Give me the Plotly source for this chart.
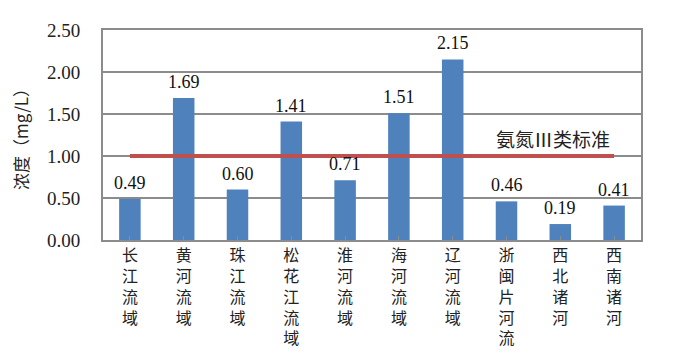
import plotly.graph_objects as go

categories = ["长江流域", "黄河流域", "珠江流域", "松花江流域", "淮河流域",
              "海河流域", "辽河流域", "浙闽片河流", "西北诸河", "西南诸河"]
values = [0.49, 1.69, 0.60, 1.41, 0.71, 1.51, 2.15, 0.46, 0.19, 0.41]
standard_value = 1.0
standard_label = "氨氮Ⅲ类标准"
y_title = "浓度（mg/L）"
y_ticks = [0.0, 0.5, 1.0, 1.5, 2.0, 2.5]

serif = "Liberation Serif, Times New Roman, serif"
cjk = "Noto Sans CJK SC"
grid = "#8c8c8c"

tick_text = ["<br>".join(list(c)) for c in categories]
xs = list(range(len(categories)))

fig = go.Figure()
fig.add_trace(go.Bar(
    x=xs, y=values, marker_color="#4F81BD", marker_line_width=0,
    cliponaxis=False, width=0.4,
))
for xi, v in zip(xs, values):
    fig.add_annotation(
        x=xi, y=v, xref="x", yref="y", text=f"{v:.2f}", showarrow=False,
        xanchor="center", yanchor="bottom", yshift=4,
        font=dict(family=serif, size=18, color="#111111"),
    )
fig.add_trace(go.Scatter(
    x=[xs[0], xs[-1]], y=[standard_value] * 2, mode="lines",
    line=dict(color="#C0504D", width=4),
))
fig.add_annotation(
    x=xs[-1], y=standard_value, xref="x", yref="y", text=standard_label,
    showarrow=False, xanchor="right", yanchor="bottom", yshift=2, xshift=-2,
    font=dict(family=cjk, size=19, color="#222222"),
)
fig.update_layout(
    width=700, height=362, margin=dict(l=95, r=67, t=22, b=130),
    paper_bgcolor="white", plot_bgcolor="white", showlegend=False,
    bargap=0.6,
)
fig.update_xaxes(
    tickmode="array", tickvals=xs, ticktext=tick_text, range=[-0.5, 9.5],
    showline=True, linecolor=grid, linewidth=2, mirror=True,
    ticks="inside", ticklen=4, tickcolor=grid, tickson="boundaries",
    tickfont=dict(family=cjk, size=16, color="#222222"), tickangle=0,
    showgrid=False, automargin=False,
)
fig.update_yaxes(
    range=[0, 2.5], tickvals=y_ticks, tickformat=".2f",
    showline=True, linecolor=grid, linewidth=2, mirror=True,
    showgrid=True, gridcolor=grid, gridwidth=1.5, zeroline=False,
    tickfont=dict(family=serif, size=19, color="#222222"),
    title=dict(text=y_title, font=dict(family=cjk, size=17, color="#222222"), standoff=22),
    ticks="", ticklabelstandoff=17, automargin=False,
)
fig.write_html("out.html")
